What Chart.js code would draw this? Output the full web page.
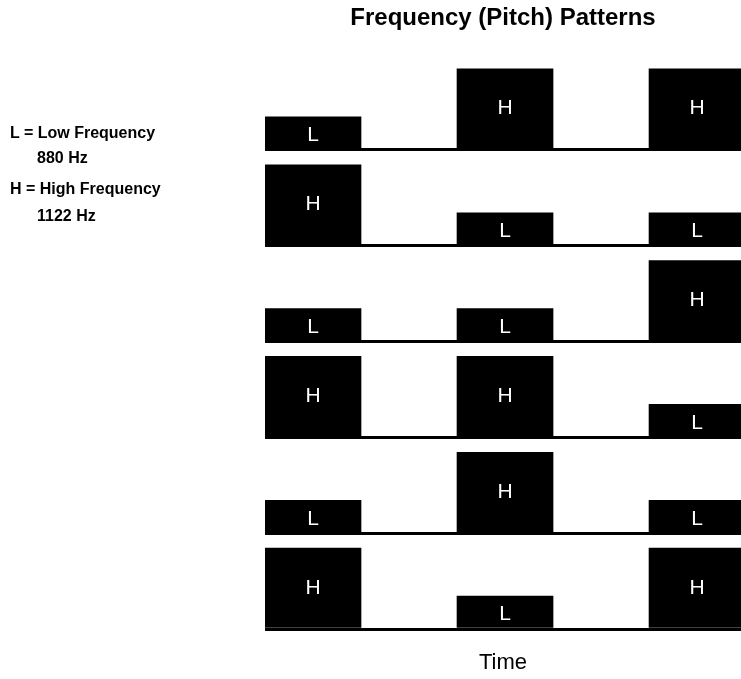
<!DOCTYPE html>
<html>
<head>
<meta charset="utf-8">
<script src="https://cdn.jsdelivr.net/npm/chart.js@4/dist/chart.umd.min.js"></script>
<style>
  html, body { margin: 0; padding: 0; background: #fff; }
  #wrap { position: relative; width: 741px; height: 679px; overflow: hidden; }
  #chart { position: absolute; left: 0; top: 0; }
  .leg { position: absolute; font-family: "Liberation Sans", Arial, sans-serif; font-weight: bold;
         font-size: 16px; line-height: 16px; color: #000; white-space: nowrap; }
</style>
</head>
<body>
<div id="wrap">
  <canvas id="chart" width="741" height="679"></canvas>
  <div id="legend"></div>
</div>
<script>
// ---- data ----
const chartTitle = 'Frequency (Pitch) Patterns';
const axisTitle = 'Time';
const toneKeys = ['L', 'H'];
const toneNames = ['Low', 'High'];
const toneHz = [880, 1122];
// tone onsets along the timeline, in tone-length units (tone, pause, tone, pause, tone)
const toneTimes = [0, 2, 4];
const rowPatterns = [
  ['L', 'H', 'H'],
  ['H', 'L', 'L'],
  ['L', 'L', 'H'],
  ['H', 'H', 'L'],
  ['L', 'H', 'L'],
  ['H', 'L', 'H']
];

const hzOf = k => toneHz[toneKeys.indexOf(k)];
const AXIS_FLOOR = 714;
const AXIS_CEIL = 1197;

// ---- legend (left side text) ----
const legendTops = [124.8, 149.8, 181, 207.5];
const legendLefts = [10, 37];
const legendEl = document.getElementById('legend');
let li = 0;
toneKeys.forEach((k, i) => {
  const a = document.createElement('div');
  a.className = 'leg';
  a.textContent = k + ' = ' + toneNames[i] + ' Frequency';
  a.style.left = legendLefts[0] + 'px';
  a.style.top = legendTops[li++] + 'px';
  legendEl.appendChild(a);
  const b = document.createElement('div');
  b.className = 'leg';
  b.textContent = toneHz[i] + ' Hz';
  b.style.left = legendLefts[1] + 'px';
  b.style.top = legendTops[li++] + 'px';
  legendEl.appendChild(b);
});

// ---- chart ----
const FONT = '"Liberation Sans", Arial, sans-serif';
const scales = {
  x: {
    type: 'linear',
    offset: false,
    min: -0.5,
    max: 4.458,
    ticks: { display: false, stepSize: 1, includeBounds: false },
    grid: { display: false, drawTicks: false, offset: false },
    border: { display: false },
    title: {
      display: true, text: axisTitle, color: '#000',
      font: { family: FONT, size: 22, weight: 'normal' },
      padding: { top: 20.6, bottom: 3 }
    }
  }
};
// left-stacked axes are laid out last-defined-first, so add them bottom row first
for (let r = rowPatterns.length - 1; r >= 0; r--) {
  scales['row' + r] = {
    type: 'linear',
    position: 'left',
    stack: 'rows',
    stackWeight: 1,
    min: AXIS_FLOOR,
    max: AXIS_CEIL,
    display: true,
    ticks: { display: false },
    grid: { color: '#000', lineWidth: 3, drawTicks: false },
    border: { display: false },
    afterBuildTicks: axis => { axis.ticks = [{ value: axis.min }]; }
  };
}

const datasets = rowPatterns.map((p, r) => ({
  type: 'bar',
  label: 'Pattern ' + (r + 1),
  xAxisID: 'x',
  yAxisID: 'row' + r,
  data: toneTimes.map((t, k) => ({ x: t, y: hzOf(p[k]), tone: p[k] })),
  base: AXIS_FLOOR,
  backgroundColor: '#000',
  borderWidth: 0,
  grouped: false,
  barPercentage: 1,
  categoryPercentage: 1
}));

const toneLabelPlugin = {
  id: 'toneLabels',
  afterDatasetsDraw(chart) {
    const ctx = chart.ctx;
    ctx.save();
    ctx.fillStyle = '#fff';
    ctx.font = '21px ' + FONT;
    ctx.textAlign = 'center';
    ctx.textBaseline = 'middle';
    chart.data.datasets.forEach((ds, i) => {
      const meta = chart.getDatasetMeta(i);
      meta.data.forEach((bar, j) => {
        const tone = ds.data[j].tone;
        const h = bar.base - bar.y;
        const f = tone === 'H' ? 0.5 : 0.41;
        ctx.fillText(tone, bar.x, bar.base - h * f);
      });
    });
    ctx.restore();
  }
};

new Chart(document.getElementById('chart'), {
  type: 'bar',
  data: { datasets },
  options: {
    responsive: false,
    animation: false,
    layout: { padding: { left: 265, right: 0, top: 0, bottom: 0 } },
    scales,
    plugins: {
      legend: { display: false },
      tooltip: { enabled: false },
      title: {
        display: true, text: chartTitle, color: '#000',
        font: { family: FONT, size: 24, weight: 'bold' },
        padding: { top: 4, bottom: 21.2 }
      }
    }
  },
  plugins: [toneLabelPlugin]
});
</script>
</body>
</html>
